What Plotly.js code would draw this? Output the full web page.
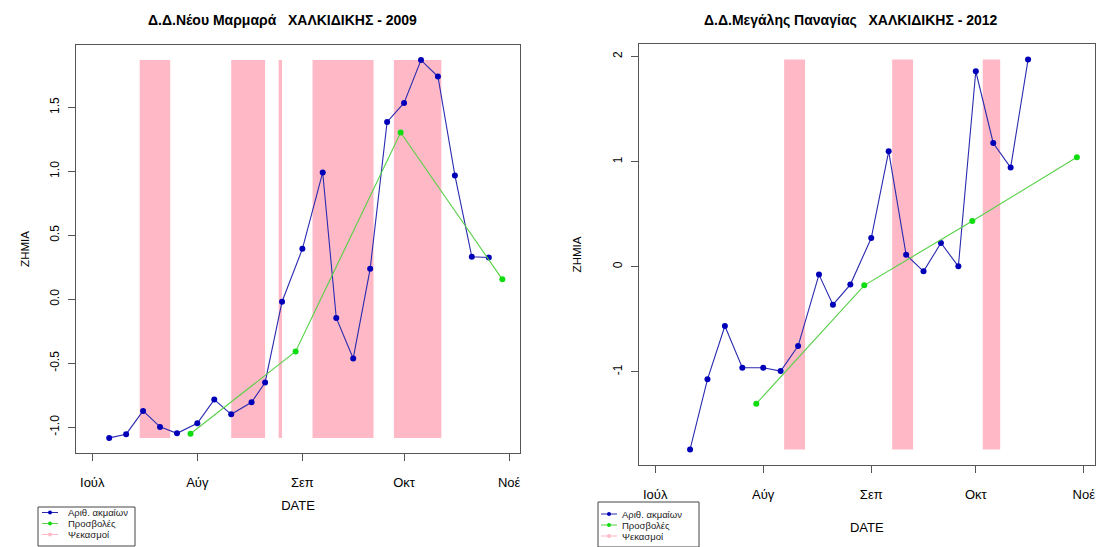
<!DOCTYPE html>
<html>
<head>
<meta charset="utf-8">
<script src="https://cdn.plot.ly/plotly-3.0.1.min.js"></script>
<style>html,body{margin:0;padding:0;background:#fff;}#chart{width:1099px;height:547px;}</style>
</head>
<body>
<div id="chart"></div>
<script>
// ---------- data ----------
const monthLabels = ['Ιούλ', 'Αύγ', 'Σεπ', 'Οκτ', 'Νοέ'];
const monthStarts = ['07-01', '08-01', '09-01', '10-01', '11-01'];
const seriesNames = ['Αριθ. ακμαίων', 'Προσβολές', 'Ψεκασμοί'];
const axisTitleX = 'DATE';
const axisTitleY = 'ZHMIA';

const titleMarmara = 'Δ.Δ.Νέου Μαρμαρά   ΧΑΛΚΙΔΙΚΗΣ - 2009';
const titlePanagia = 'Δ.Δ.Μεγάλης Παναγίας   ΧΑΛΚΙΔΙΚΗΣ - 2012';

const yTicksMarmara = [-1.0, -0.5, 0.0, 0.5, 1.0, 1.5];
const yTickLabelsMarmara = ['-1.0', '-0.5', '0.0', '0.5', '1.0', '1.5'];
const yTicksPanagia = [-1, 0, 1, 2];
const yTickLabelsPanagia = ['-1', '0', '1', '2'];

// Νέου Μαρμαρά 2009
const marmaraDates = ['2009-07-06', '2009-07-11', '2009-07-16', '2009-07-21', '2009-07-26', '2009-08-01',
  '2009-08-06', '2009-08-11', '2009-08-17', '2009-08-21', '2009-08-26', '2009-09-01', '2009-09-07',
  '2009-09-11', '2009-09-16', '2009-09-21', '2009-09-26', '2009-10-01', '2009-10-06', '2009-10-11',
  '2009-10-16', '2009-10-21', '2009-10-26'];
const marmaraAdults = [-1.083, -1.054, -0.872, -0.997, -1.047, -0.969, -0.784, -0.899, -0.805, -0.650,
  -0.019, 0.394, 0.991, -0.146, -0.462, 0.238, 1.386, 1.534, 1.869, 1.741, 0.968, 0.332, 0.327];
const marmaraAttackDates = ['2009-07-30', '2009-08-30', '2009-09-30', '2009-10-30'];
const marmaraAttacks = [-1.051, -0.408, 1.303, 0.156];
const marmaraSprayStart = ['2009-07-15', '2009-08-11', '2009-08-25', '2009-09-04', '2009-09-28'];
const marmaraSprayEnd = ['2009-07-24', '2009-08-21', '2009-08-26', '2009-09-22', '2009-10-12'];

// Μεγάλης Παναγίας 2012
const panagiaDates = ['2012-07-11', '2012-07-16', '2012-07-21', '2012-07-26', '2012-08-01', '2012-08-06',
  '2012-08-11', '2012-08-17', '2012-08-21', '2012-08-26', '2012-09-01', '2012-09-06', '2012-09-11',
  '2012-09-16', '2012-09-21', '2012-09-26', '2012-10-01', '2012-10-06', '2012-10-11', '2012-10-16'];
const panagiaAdults = [-1.740, -1.073, -0.565, -0.962, -0.962, -0.994, -0.756, -0.076, -0.362, -0.171,
  0.272, 1.098, 0.114, -0.045, 0.225, 0.003, 1.860, 1.177, 0.943, 1.971];
const panagiaAttackDates = ['2012-07-30', '2012-08-30', '2012-09-30', '2012-10-30'];
const panagiaAttacks = [-1.305, -0.178, 0.434, 1.041];
const panagiaSprayStart = ['2012-08-07', '2012-09-07', '2012-10-03'];
const panagiaSprayEnd = ['2012-08-13', '2012-09-13', '2012-10-08'];

// ---------- style ----------
const W = 1099, H = 547;
const BLUE_LINE = '#2a2ab0', BLUE_PT = '#0000b8';
const GREEN_LINE = '#55d045', GREEN_PT = '#10dd10';
const PINK = '#ffb9c6';
const AXC = '#555555';
const FONT = 'Liberation Sans, Arial, Helvetica, sans-serif';
const px = v => v / W;
const py = v => 1 - v / H;

function padRange(vals) {
  const lo = Math.min(...vals), hi = Math.max(...vals), r = hi - lo;
  return [lo - 0.04 * r, hi + 0.04 * r];
}

function lineTrace(x, y, name, lc, pc, xa, ya) {
  return {
    type: 'scatter', mode: 'lines+markers', x: x, y: y, name: name,
    xaxis: xa, yaxis: ya, showlegend: false,
    line: {color: lc, width: 1.1}, marker: {color: pc, size: 6}
  };
}

const traces = [
  lineTrace(marmaraDates, marmaraAdults, seriesNames[0], BLUE_LINE, BLUE_PT, 'x', 'y'),
  lineTrace(marmaraAttackDates, marmaraAttacks, seriesNames[1], GREEN_LINE, GREEN_PT, 'x', 'y'),
  lineTrace(panagiaDates, panagiaAdults, seriesNames[0], BLUE_LINE, BLUE_PT, 'x2', 'y2'),
  lineTrace(panagiaAttackDates, panagiaAttacks, seriesNames[1], GREEN_LINE, GREEN_PT, 'x2', 'y2')
];

const shapes = [];
function addBands(starts, ends, adults, xr, yr) {
  const lo = Math.min(...adults), hi = Math.max(...adults);
  starts.forEach((s, i) => shapes.push({
    type: 'rect', xref: xr, yref: yr, x0: s, x1: ends[i], y0: lo, y1: hi,
    fillcolor: PINK, line: {width: 0}, layer: 'below'
  }));
}
addBands(marmaraSprayStart, marmaraSprayEnd, marmaraAdults, 'x', 'y');
addBands(panagiaSprayStart, panagiaSprayEnd, panagiaAdults, 'x2', 'y2');

const annotations = [
  {text: '<b>' + titleMarmara + '</b>', xref: 'paper', yref: 'paper', x: px(282), y: py(20),
   xanchor: 'center', yanchor: 'middle', showarrow: false, font: {family: FONT, size: 14, color: '#000'}},
  {text: '<b>' + titlePanagia + '</b>', xref: 'paper', yref: 'paper', x: px(851), y: py(20),
   xanchor: 'center', yanchor: 'middle', showarrow: false, font: {family: FONT, size: 14, color: '#000'}}
];

// manual legends (R style)
function addLegend(box, rows, lineX0, lineX1, textX) {
  shapes.push({type: 'rect', xref: 'paper', yref: 'paper', x0: px(box[0]), x1: px(box[2]),
    y0: py(box[3]), y1: py(box[1]), line: {color: '#444', width: 1}, fillcolor: 'rgba(255,255,255,0)', layer: 'above'});
  const cols = [[BLUE_LINE, BLUE_PT], [GREEN_LINE, GREEN_PT], [PINK, PINK]];
  rows.forEach((ry, i) => {
    shapes.push({type: 'line', xref: 'paper', yref: 'paper', x0: px(lineX0), x1: px(lineX1),
      y0: py(ry), y1: py(ry), line: {color: cols[i][0], width: 1}, layer: 'above'});
    const cx = (lineX0 + lineX1) / 2, r = 2;
    shapes.push({type: 'circle', xref: 'paper', yref: 'paper', x0: px(cx - r), x1: px(cx + r),
      y0: py(ry + r), y1: py(ry - r), fillcolor: cols[i][1], line: {width: 0}, layer: 'above'});
    annotations.push({text: seriesNames[i], xref: 'paper', yref: 'paper', x: px(textX), y: py(ry),
      xanchor: 'left', yanchor: 'middle', showarrow: false, borderpad: 0,
      font: {family: FONT, size: 9.5, color: '#222'}});
  });
}
addLegend([38, 507, 135, 546], [512.5, 523.5, 534.5], 42, 58, 67);
addLegend([598, 502, 699, 547], [514, 525, 536], 601, 617, 621);

function xAxis(year, dom, anchor, standoff) {
  return {
    domain: dom, anchor: anchor, type: 'date',
    range: [year + '-06-26 05:00', year + '-11-04 05:00'],
    tickmode: 'array', tickvals: monthStarts.map(m => year + '-' + m), ticktext: monthLabels,
    ticks: 'outside', ticklen: 7, tickcolor: AXC, tickwidth: 1,
    showline: true, mirror: true, linecolor: AXC, linewidth: 1,
    showgrid: false, zeroline: false, ticklabelstandoff: 10,
    tickfont: {family: FONT, size: 13, color: '#000'},
    title: {text: axisTitleX, standoff: standoff, font: {family: FONT, size: 13, color: '#000'}}
  };
}
function yAxis(vals, ticks, labels, dom, anchor, standoff) {
  return {
    domain: dom, anchor: anchor, range: padRange(vals),
    tickmode: 'array', tickvals: ticks, ticktext: labels, tickangle: -90,
    ticks: 'outside', ticklen: 7, tickcolor: AXC, tickwidth: 1,
    showline: true, mirror: true, linecolor: AXC, linewidth: 1,
    showgrid: false, zeroline: false, ticklabelstandoff: 4,
    tickfont: {family: FONT, size: 12, color: '#000'},
    title: {text: axisTitleY, standoff: standoff, font: {family: FONT, size: 11.5, color: '#000'}}
  };
}

const layout = {
  width: W, height: H, margin: {l: 0, r: 0, t: 0, b: 0},
  paper_bgcolor: '#fff', plot_bgcolor: '#fff', showlegend: false,
  font: {family: FONT, size: 13, color: '#000'},
  xaxis: xAxis('2009', [px(76), px(520)], 'y', 12),
  yaxis: yAxis(marmaraAdults, yTicksMarmara, yTickLabelsMarmara, [py(453), py(45)], 'x', 16),
  xaxis2: xAxis('2012', [px(638.5), px(1095)], 'y2', 22),
  yaxis2: yAxis(panagiaAdults, yTicksPanagia, yTickLabelsPanagia, [py(465), py(44)], 'x2', 26),
  shapes: shapes,
  annotations: annotations
};

Plotly.newPlot('chart', traces, layout, {displayModeBar: false, staticPlot: true});
</script>
</body>
</html>
